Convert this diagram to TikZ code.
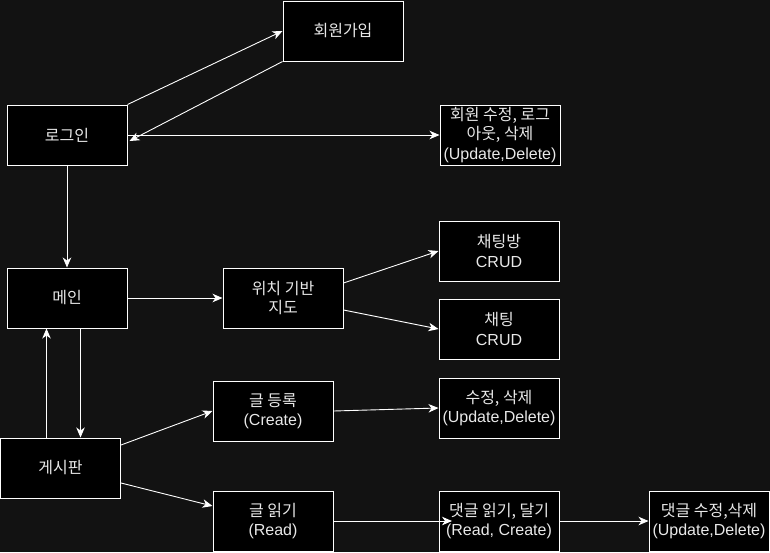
\documentclass[tikz,border=0pt]{standalone}
\usepackage{fontspec}
\setmainfont{Liberation Sans}
\newfontfamily\kr{Noto Sans CJK KR}
\usetikzlibrary{arrows.meta}
\definecolor{bg}{RGB}{18,18,18}
\definecolor{txt}{RGB}{232,232,232}
\begin{document}
\begin{tikzpicture}[x=1pt,y=-1pt,
  box/.style={draw=white,fill=black,line width=1pt,minimum width=120pt,minimum height=60pt,inner sep=0pt,
    text=txt,align=center,font=\fontsize{16}{19.5}\selectfont},
  arr/.style={draw=white,line width=0.9pt,-{Stealth[length=10pt,width=8.5pt,inset=3pt]}}]
\fill[bg] (0,0) rectangle (770,552);
\useasboundingbox (0,0) rectangle (770,552);
\node[box] (join) at (343,31) {\kr 회원가입};
\node[box] (login) at (67,135) {\kr 로그인};
\node[box] (upd) at (500,135) {\kr 회원 수정, 로그\\\kr 아웃, 삭제\\(Update,Delete)};
\node[box] (main) at (67,298) {\kr 메인};
\node[box] (map) at (283,298) {\kr 위치 기반\\\kr 지도};
\node[box] (room) at (499,251) {\kr 채팅방\\CRUD};
\node[box] (chat) at (499,329) {\kr 채팅\\CRUD};
\node[box] (board) at (60.5,468) {\kr 게시판};
\node[box] (create) at (273,411) {\kr 글 등록\\(Create)};
\node[box] (read) at (273,521) {\kr 글 읽기\\(Read)};
\node[box] (ud) at (499,408) {\kr 수정, 삭제\\(Update,Delete)};
\node[box] (cmt) at (499,521) {\kr 댓글 읽기, 달기\\(Read, Create)};
\node[box] (cmtud) at (709,521) {\kr 댓글 수정,삭제\\(Update,Delete)};
\coordinate (cmtin) at (452,521);
\draw[arr] (login.north east) -- (join.west);
\draw[arr] (join.south west) -- ([yshift=-6pt,xshift=2pt]login.east);
\draw[arr] (login.east) -- (upd.west);
\draw[arr] (login.south) -- (main.north);
\draw[arr] (main.east) -- (map.west);
\draw[arr] ([yshift=15pt]map.east) -- (room.west);
\draw[arr] ([yshift=-12pt]map.east) -- (chat.west);
\draw[arr] ([xshift=13.5pt]main.south) -- ([xshift=13.5pt]main.south |- board.north);
\draw[arr] ([xshift=-14pt]board.north) -- ([xshift=-14pt]board.north |- main.south);
\draw[arr] ([yshift=23pt]board.east) -- (create.west);
\draw[arr] ([yshift=-15pt]board.east) -- ([yshift=15pt]read.west);
\draw[arr] (create.east) -- (ud.west);
\draw[arr] (read.east) -- (cmtin);
\draw[arr] (cmt.east) -- (cmtud.west);
\end{tikzpicture}
\end{document}
